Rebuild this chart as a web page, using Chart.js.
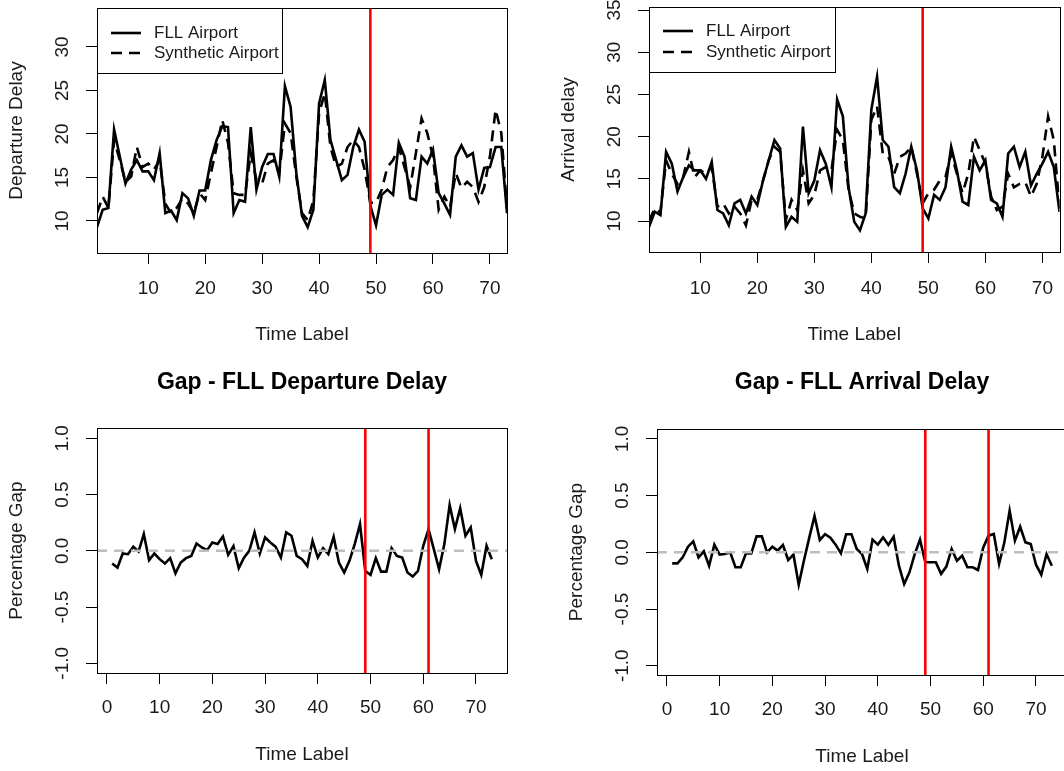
<!DOCTYPE html>
<html>
<head>
<meta charset="utf-8">
<title>FLL delays and gaps</title>
<script src="https://cdn.jsdelivr.net/npm/chart.js@4.4.0/dist/chart.umd.min.js"></script>
<style>
    html, body { margin: 0; padding: 0; background: #fff; overflow: hidden; }
    body { width: 1064px; height: 771px; position: relative; }
    canvas { position: absolute; }
</style>
</head>
<body>
<canvas id="depChart" width="532" height="360" style="left:0;top:0"></canvas>
<canvas id="arrChart" width="532" height="360" style="left:532px;top:0"></canvas>
<canvas id="gapDepChart" width="532" height="411" style="left:0;top:360px"></canvas>
<canvas id="gapArrChart" width="540" height="411" style="left:532px;top:360px"></canvas>
<script>
// --- data ---
const timeLabels = [1, 2, 3, 4, 5, 6, 7, 8, 9, 10, 11, 12, 13, 14, 15, 16, 17, 18, 19, 20,
    21, 22, 23, 24, 25, 26, 27, 28, 29, 30, 31, 32, 33, 34, 35, 36, 37, 38, 39, 40,
    41, 42, 43, 44, 45, 46, 47, 48, 49, 50, 51, 52, 53, 54, 55, 56, 57, 58, 59, 60,
    61, 62, 63, 64, 65, 66, 67, 68, 69, 70, 71, 72, 73];

const depFLL = [9.3, 11.3, 11.5, 20.5, 17.4, 14.3, 15.9, 17.0, 15.7, 15.7, 14.7, 17.8, 10.9, 11.2, 10.1, 13.2, 12.6, 10.6, 13.5, 13.5,
    17.0, 19.3, 20.9, 20.8, 10.9, 12.4, 12.2, 20.8, 13.6, 16.2, 17.7, 17.7, 15.1, 25.5, 23.1, 15.5, 10.6, 9.3, 11.3, 23.5,
    26.2, 19.3, 17.0, 14.7, 15.3, 18.5, 20.5, 19.1, 11.8, 9.5, 13.0, 13.6, 13.0, 19.0, 17.4, 12.6, 12.4, 17.4, 16.6, 18.2,
    13.2, 12.0, 10.7, 17.4, 18.7, 17.4, 17.8, 13.6, 16.1, 16.2, 18.5, 18.5, 10.9];
const depSynthetic = [10.9, 12.8, 11.5, 19.3, 17.0, 14.5, 15.1, 18.5, 16.2, 16.6, 15.9, 17.0, 12.0, 10.9, 11.5, 12.6, 12.0, 10.9, 13.2, 12.4,
    15.5, 18.5, 21.6, 19.0, 13.2, 13.0, 13.0, 17.8, 14.7, 14.3, 16.6, 17.0, 15.5, 21.2, 20.1, 15.1, 10.9, 10.1, 12.4, 22.4,
    24.7, 18.5, 16.2, 16.6, 18.5, 19.3, 18.5, 15.9, 12.1, 12.1, 13.6, 16.2, 17.0, 18.5, 16.2, 13.9, 17.8, 21.8, 20.1, 17.4,
    11.3, 12.8, 11.6, 15.5, 13.8, 14.5, 13.9, 12.2, 13.9, 17.4, 22.8, 20.1, 11.5];

const arrFLL = [9.3, 11.1, 10.7, 18.2, 16.8, 13.5, 15.2, 16.6, 16.0, 16.0, 15.0, 17.0, 11.3, 10.9, 9.5, 12.1, 12.5, 10.9, 12.9, 11.9,
    14.8, 17.2, 19.6, 18.6, 9.3, 10.5, 9.9, 21.2, 13.3, 14.8, 18.4, 16.8, 14.0, 24.4, 22.4, 14.0, 9.9, 8.9, 10.9, 23.2,
    27.1, 19.6, 18.8, 14.0, 13.3, 15.6, 18.8, 16.0, 11.5, 10.3, 13.1, 12.5, 14.0, 18.8, 16.0, 12.3, 11.9, 17.6, 16.0, 17.2,
    12.5, 12.1, 10.5, 18.0, 18.8, 16.4, 18.2, 14.2, 15.6, 16.8, 18.2, 16.4, 11.1];
const arrSynthetic = [10.0, 11.5, 11.0, 17.2, 15.6, 14.4, 15.2, 18.2, 15.2, 16.0, 15.6, 16.4, 11.7, 12.1, 10.9, 11.7, 10.9, 9.5, 12.5, 12.5,
    14.8, 17.2, 18.8, 18.2, 10.1, 12.5, 11.3, 16.0, 12.1, 13.1, 16.0, 16.4, 16.0, 20.8, 19.6, 13.7, 10.9, 10.5, 10.3, 22.0,
    23.6, 18.0, 17.6, 15.6, 17.6, 18.0, 18.8, 15.6, 12.1, 13.3, 13.7, 14.8, 15.2, 18.0, 15.6, 13.3, 15.6, 20.0, 18.4, 16.8,
    12.9, 11.3, 11.7, 15.6, 14.0, 14.4, 14.6, 12.9, 14.4, 17.6, 22.4, 19.6, 11.5];

const gapDep = [-0.113, -0.149, -0.024, -0.03, 0.036, -0.006, 0.149, -0.083, -0.024, -0.074, -0.113, -0.065, -0.2, -0.104, -0.065, -0.045, 0.065, 0.03, 0.006, 0.074,
    0.06, 0.128, -0.036, 0.042, -0.155, -0.06, 0.0, 0.164, -0.024, 0.119, 0.074, 0.036, -0.06, 0.164, 0.134, -0.045, -0.075, -0.134, 0.089, -0.06,
    0.024, -0.03, 0.125, -0.104, -0.193, -0.089, 0.06, 0.238, -0.179, -0.214, -0.065, -0.185, -0.185, 0.024, -0.045, -0.06, -0.193, -0.229, -0.179, 0.045,
    0.193, 0.015, -0.164, 0.06, 0.408, 0.193, 0.378, 0.134, 0.208, -0.089, -0.214, 0.045, -0.074];
const gapArr = [-0.097, -0.097, -0.044, 0.05, 0.097, -0.044, 0.009, -0.118, 0.068, -0.02, -0.015, 0.0, -0.132, -0.132, -0.009, -0.009, 0.141, 0.141, 0.0, 0.05,
    0.015, 0.065, -0.068, -0.02, -0.285, -0.07, 0.13, 0.32, 0.109, 0.16, 0.13, 0.068, -0.009, 0.16, 0.16, 0.03, -0.015, -0.147, 0.112, 0.068,
    0.132, 0.065, 0.138, -0.118, -0.28, -0.176, -0.015, 0.112, -0.088, -0.088, -0.088, -0.19, -0.126, 0.03, -0.074, -0.03, -0.132, -0.132, -0.156, 0.044,
    0.147, 0.162, -0.103, 0.088, 0.368, 0.103, 0.226, 0.088, 0.074, -0.109, -0.197, -0.015, -0.118];

// tick values
const xTicksTop = [10, 20, 30, 40, 50, 60, 70];
const xTicksGap = [0, 10, 20, 30, 40, 50, 60, 70];
const yTicksDep = [10, 15, 20, 25, 30];
const yTicksArr = [10, 15, 20, 25, 30, 35];
const yTicksGap = [-1, -0.5, 0, 0.5, 1];

// red break lines
const breakTop = [49];
const breakGap = [49, 61];

const FONT = "'Liberation Sans', Arial, sans-serif";
const TEXT = '#1a1a1a';
Chart.defaults.font.family = FONT;
Chart.defaults.color = TEXT;

function toPoints(values) {
    return values.map((v, i) => ({ x: timeLabels[i], y: v }));
}

// --- plugin: khung kiểu R, nhãn trục y xoay, đường đỏ, chú thích ---
const rStylePlugin = {
    id: 'rStyle',
    afterDatasetsDraw(chart, args, opts) {
        const { ctx, chartArea: a, scales: { x, y } } = chart;

        ctx.save();
        ctx.beginPath();
        ctx.rect(a.left, a.top, a.right - a.left, a.bottom - a.top);
        ctx.clip();
        (opts.hLines || []).forEach(v => {
            const py = y.getPixelForValue(v);
            ctx.strokeStyle = '#bebebe';
            ctx.lineWidth = 2.5;
            ctx.setLineDash([10, 7]);
            ctx.beginPath();
            ctx.moveTo(a.left, py);
            ctx.lineTo(a.right, py);
            ctx.stroke();
        });
        ctx.setLineDash([]);
        (opts.vLines || []).forEach(v => {
            const px = x.getPixelForValue(v);
            ctx.strokeStyle = '#ff0000';
            ctx.lineWidth = 2.6;
            ctx.beginPath();
            ctx.moveTo(px, a.top);
            ctx.lineTo(px, a.bottom);
            ctx.stroke();
        });
        ctx.restore();

        // box
        ctx.save();
        ctx.strokeStyle = '#000';
        ctx.lineWidth = 1;
        ctx.strokeRect(Math.round(a.left) + 0.5, Math.round(a.top) + 0.5,
            Math.round(a.right - a.left), Math.round(a.bottom - a.top));

        // y tick labels, rotated like R
        ctx.fillStyle = TEXT;
        ctx.font = '19px ' + FONT;
        ctx.textAlign = 'center';
        ctx.textBaseline = 'middle';
        y.ticks.forEach(t => {
            const py = y.getPixelForValue(t.value);
            ctx.save();
            ctx.translate(opts.yLabelX, py);
            ctx.rotate(-Math.PI / 2);
            ctx.fillText(opts.yFormat(t.value), 0, 0);
            ctx.restore();
        });

        // legend
        const L = opts.legend;
        if (L) {
            ctx.strokeStyle = '#000';
            ctx.lineWidth = 1;
            ctx.setLineDash([]);
            ctx.strokeRect(L.left + 0.5, L.top + 0.5, L.width, L.height);
            ctx.font = '17px ' + FONT;
            ctx.textAlign = 'left';
            chart.data.datasets.forEach((ds, i) => {
                const yy = L.top + L.rows[i];
                ctx.strokeStyle = ds.borderColor;
                ctx.lineWidth = ds.borderWidth;
                ctx.setLineDash(ds.borderDash || []);
                ctx.beginPath();
                ctx.moveTo(L.left + 14, yy);
                ctx.lineTo(L.left + 44, yy);
                ctx.stroke();
                ctx.fillText(ds.label, L.left + 57, yy);
            });
        }
        ctx.restore();
    }
};

function makePanel(canvasId, cfg) {
    const ctx = document.getElementById(canvasId);
    if (!ctx) return null;

    return new Chart(ctx, {
        type: 'line',
        data: { datasets: cfg.datasets },
        options: {
            responsive: false,
            animation: false,
            devicePixelRatio: 1,
            layout: { padding: cfg.padding },
            elements: { point: { radius: 0 }, line: { tension: 0 } },
            scales: {
                x: {
                    type: 'linear',
                    min: cfg.xRange[0],
                    max: cfg.xRange[1],
                    afterBuildTicks: s => { s.ticks = cfg.xTicks.map(v => ({ value: v })); },
                    afterFit: s => { s.height = cfg.xAxisHeight; s.paddingLeft = 0; s.paddingRight = 0; },
                    grid: { drawOnChartArea: false, tickLength: 11, color: '#000' },
                    border: { display: false },
                    ticks: {
                        color: TEXT, font: { size: 19 }, padding: cfg.xTickPad,
                        maxRotation: 0, autoSkip: false, callback: v => String(v)
                    },
                    title: {
                        display: true, text: 'Time Label', color: TEXT, font: { size: 19 },
                        padding: { top: 0, bottom: cfg.xTitlePad }
                    }
                },
                y: {
                    type: 'linear',
                    min: cfg.yRange[0],
                    max: cfg.yRange[1],
                    afterBuildTicks: s => { s.ticks = cfg.yTicks.map(v => ({ value: v })); },
                    afterFit: s => { s.width = cfg.yAxisWidth; s.paddingTop = 0; s.paddingBottom = 0; },
                    grid: { drawOnChartArea: false, tickLength: 11, color: '#000' },
                    border: { display: false },
                    ticks: { display: false },
                    title: {
                        display: true, text: cfg.yTitle, color: TEXT, font: { size: 19 },
                        padding: { top: cfg.yTitlePad, bottom: 0 }
                    }
                }
            },
            plugins: {
                legend: { display: false },
                tooltip: { enabled: false },
                title: cfg.title ? {
                    display: true, text: cfg.title, fullSize: false, color: '#000',
                    font: { size: 23, weight: 'bold' },
                    padding: cfg.titlePad
                } : { display: false },
                rStyle: {
                    yLabelX: cfg.yLabelX,
                    yFormat: cfg.yFormat,
                    vLines: cfg.vLines,
                    hLines: cfg.hLines,
                    legend: cfg.legend
                }
            }
        },
        plugins: [rStylePlugin]
    });
}

function pairDatasets(fll, synth) {
    return [
        { label: 'FLL Airport', data: toPoints(fll), borderColor: '#000', borderWidth: 2.6 },
        { label: 'Synthetic Airport', data: toPoints(synth), borderColor: '#000', borderWidth: 2.6, borderDash: [11, 7] }
    ];
}

function gapDataset(values) {
    return [{ label: 'Gap', data: toPoints(values), borderColor: '#000', borderWidth: 2.6 }];
}

document.addEventListener('DOMContentLoaded', function () {
    makePanel('depChart', {
        datasets: pairDatasets(depFLL, depSynthetic),
        padding: { top: 8, right: 25, left: 0, bottom: 0 },
        xRange: [1, 73], yRange: [6.32, 34.48],
        xTicks: xTicksTop, yTicks: yTicksDep,
        xAxisHeight: 107, xTickPad: 13.6, xTitlePad: 13.6,
        yAxisWidth: 97, yTitlePad: 5.6, yLabelX: 63,
        yTitle: 'Departure Delay', yFormat: v => String(v),
        vLines: breakTop,
        legend: { left: 97, top: 8, width: 185, height: 65, rows: [25, 45] }
    });

    makePanel('arrChart', {
        datasets: pairDatasets(arrFLL, arrSynthetic),
        padding: { top: 7, right: 4.5, left: 0, bottom: 0 },
        xRange: [1, 73], yRange: [6.33, 35.36],
        xTicks: xTicksTop, yTicks: yTicksArr,
        xAxisHeight: 108, xTickPad: 14.6, xTitlePad: 13.6,
        yAxisWidth: 117, yTitlePad: 25.6, yLabelX: 83,
        yTitle: 'Arrival delay', yFormat: v => String(v),
        vLines: breakTop,
        legend: { left: 117, top: 7, width: 186, height: 65, rows: [24, 45] }
    });

    makePanel('gapDepChart', {
        datasets: gapDataset(gapDep),
        padding: { top: 0, right: 25, left: 0, bottom: 0 },
        title: 'Gap - FLL Departure Delay', titlePad: { top: 9.2, bottom: 31.2 },
        xRange: [-1.88, 75.88], yRange: [-1.086, 1.092],
        xTicks: xTicksGap, yTicks: yTicksGap,
        xAxisHeight: 98, xTickPad: 12.6, xTitlePad: 4.6,
        yAxisWidth: 97, yTitlePad: 5.6, yLabelX: 63,
        yTitle: 'Percentage Gap', yFormat: v => v.toFixed(1),
        vLines: breakGap, hLines: [0]
    });

    makePanel('gapArrChart', {
        datasets: gapDataset(gapArr),
        padding: { top: 0, right: 5, left: 0, bottom: 0 },
        title: 'Gap - FLL Arrival Delay', titlePad: { top: 9.2, bottom: 32.2 },
        xRange: [-1.88, 75.88], yRange: [-1.082, 1.088],
        xTicks: xTicksGap, yTicks: yTicksGap,
        xAxisHeight: 96, xTickPad: 12.6, xTitlePad: 2.6,
        yAxisWidth: 125, yTitlePad: 33.6, yLabelX: 91,
        yTitle: 'Percentage Gap', yFormat: v => v.toFixed(1),
        vLines: breakGap, hLines: [0]
    });
});
</script>
</body>
</html>
